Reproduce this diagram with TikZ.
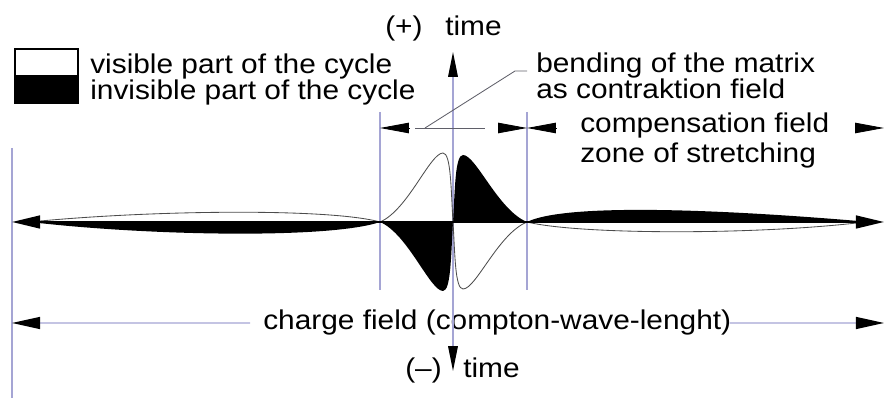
\documentclass[tikz,border=0pt]{standalone}
\usepackage{fontspec}
\setmainfont[FakeStretch=1.1]{Liberation Sans}
\usepackage{tikz}
\usetikzlibrary{arrows.meta,positioning,calc}
\definecolor{extblue}{RGB}{165,165,212}
\definecolor{leadgray}{RGB}{95,95,105}

\begin{document}
\begin{tikzpicture}[
    x=0.025cm,y=-0.025cm,
    lbl/.style={font=\fontsize{19.3}{24}\selectfont,inner sep=0pt,anchor=base west},
    legbox/.style={draw=black,line width=1pt,minimum width=1.575cm,
                   minimum height=0.675cm,inner sep=0pt},
    ext/.style={extblue,line width=0.9pt},
    leader/.style={leadgray,line width=0.6pt},
    wave/.style={black!70,line width=0.6pt},
    axarr/.style={{Triangle[length=0.7cm,width=0.32cm]}-{Triangle[length=0.7cm,width=0.32cm]},
                  line width=1.4pt},
    timearr/.style={{Triangle[length=0.62cm,width=0.24cm,color=black]}-{Triangle[length=0.62cm,width=0.24cm,color=black]}},
    dimtip/.style={-{Triangle[length=0.72cm,width=0.26cm,color=black]},line width=0.6pt},
    extarr/.style={ext,-{Triangle[length=0.7cm,width=0.3cm,color=black]}}
  ]
    \useasboundingbox (0,0) rectangle (884,398);

    \coordinate (axL) at (12,222);
    \coordinate (axR) at (884,222);
    \coordinate (O) at (453,222);
    \coordinate (tTop) at (453,52);
    \coordinate (tBot) at (453,371);
    \coordinate (dA) at (380,128);
    \coordinate (dB) at (527,128);
    \coordinate (dC) at (884,128);
    \coordinate (chgL) at (12,323);
    \coordinate (chgR) at (884,323);

    % legend
    \node[legbox,fill=white] (visbox) at (46.5,62.5) {};
    \node[legbox,fill=black] (invbox) at (46.5,89.5) {};
    \node[lbl] (vis) at (90,74) {visible part of the cycle};
    \node[lbl] (invis) at (90,100) {invisible part of the cycle};

    % labels
    \node[lbl] (plus) at (385,36) {(+)};
    \node[lbl] (tup) at (445,36) {time};
    \node[lbl] (bend) at (536,73) {bending of the matrix};
    \node[lbl] (contr) at (536,99) {as contraktion field};
    \node[lbl] (comp) at (580,133) {compensation field};
    \node[lbl] (zone) at (580,163) {zone of stretching};
    \node[lbl] (chg) at (263,330) {charge field (compton-wave-lenght)};
    \node[lbl] (minus) at (405,378) {(--)};
    \node[lbl] (tdown) at (463,378) {time};

    % extension lines and time axis
    \draw[ext] (12,148) -- (12,398);
    \draw[ext] (380,112) -- (380,290);
    \draw[ext] (527,112) -- (527,290);
    \draw[ext,timearr] (tBot) -- (tTop);

    % dimension marks
    \draw[dimtip] ($(dA)+(29,0)$) -- (dA);
    \draw[dimtip] ($(dB)+(-29,0)$) -- (dB);
    \draw[dimtip] ($(dB)+(29,0)$) -- (dB);
    \draw[dimtip] ($(dC)+(-29,0)$) -- (dC);
    \draw[leader] (415,128) -- (485,128);
    \draw[leader] (425,128) -- (515,71) -- (527,71);
    \draw[extarr] ([xshift=-0.32cm]chg.west) -- (chgL);
    \draw[extarr] ([xshift=-0.05cm]chg.east) -- (chgR);

    % waves
    \fill (30,222) .. controls (150,236) and (330,239) .. (380,222) -- cycle;
    \draw[wave] (30,222) .. controls (150,210) and (330,208) .. (380,222);
    \fill (527,222) .. controls (565,203) and (720,209) .. (870,222) -- cycle;
    \draw[wave] (527,222) .. controls (580,235) and (760,235) .. (865,222);
    \begin{scope}[shift={(O)}]
      \fill (-73,0) .. controls (-45,12) and (-23,69) .. (-10,69)
        .. controls (-2,69) and (-2,32) .. (0,0)
        .. controls (2,-32) and (2,-67) .. (10,-67)
        .. controls (23,-67) and (45,-12) .. (74,0) -- cycle;
      \draw[wave] (-73,0) .. controls (-45,-12) and (-23,-69) .. (-10,-69)
        .. controls (-2,-69) and (-2,-32) .. (0,0)
        .. controls (2,32) and (2,67) .. (10,67)
        .. controls (23,67) and (45,12) .. (74,0);
    \end{scope}

    \draw[axarr] (axL) -- (axR);
  \end{tikzpicture}
\end{document}
